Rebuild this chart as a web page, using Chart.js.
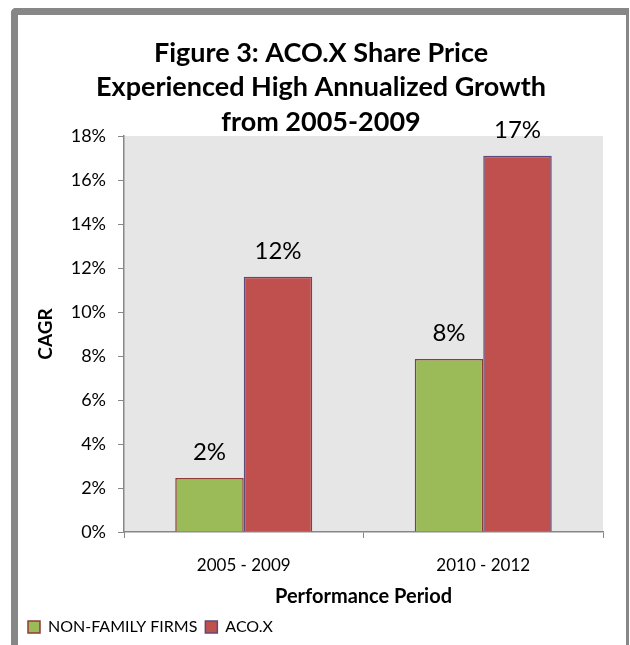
<!DOCTYPE html>
<html>
<head>
<meta charset="utf-8">
<script src="https://cdn.jsdelivr.net/npm/chart.js@4"></script>
<style>
  html, body { margin: 0; padding: 0; background: #fff; }
  body { width: 630px; height: 645px; position: relative; overflow: hidden; }
  #frame {
    position: absolute; left: 11px; top: 8px; width: 608px; height: 700px;
    border-left: 7px solid #878787; border-top: 7px solid #878787; border-right: 3px solid #878787;
    border-top-left-radius: 5px;
  }
  #wrap { position: absolute; left: 0; top: 0; width: 630px; height: 645px; }
</style>
</head>
<body>
<div id="frame"></div>
<div id="wrap"><canvas id="chart" width="630" height="645"></canvas></div>
<script>
const periods = ['2005 - 2009', '2010 - 2012'];
const nonFamily = [2.45, 7.86];
const acoX = [11.6, 17.1];
const titleLines = ['Figure 3: ACO.X Share Price', 'Experienced High Annualized Growth', 'from 2005-2009'];

const FONT = 'Lato, "Open Sans", sans-serif';
const AXIS = '#878787';

// grey plot background
const plotBg = {
  id: 'plotBg',
  beforeDraw(chart) {
    const {ctx, chartArea: a} = chart;
    ctx.save();
    ctx.fillStyle = '#e6e6e6';
    ctx.fillRect(a.left, a.top, a.right - a.left, a.bottom - a.top);
    ctx.restore();
  }
};

// title in three lines, overlapping the top of the plot like the original
const titleText = {
  id: 'titleText',
  afterDraw(chart) {
    const ctx = chart.ctx;
    ctx.save();
    ctx.font = 'bold 27px ' + FONT;
    ctx.fillStyle = '#000';
    ctx.textAlign = 'center';
    ctx.textBaseline = 'middle';
    titleLines.forEach((t, i) => ctx.fillText(t, 321, 53 + i * 34.5));
    ctx.restore();
  }
};

// value labels above the bars
const barLabels = {
  id: 'barLabels',
  afterDatasetsDraw(chart) {
    const ctx = chart.ctx;
    ctx.save();
    ctx.font = '24px ' + FONT;
    ctx.fillStyle = '#000';
    ctx.textAlign = 'center';
    ctx.textBaseline = 'alphabetic';
    chart.data.datasets.forEach((ds, i) => {
      chart.getDatasetMeta(i).data.forEach((bar, j) => {
        ctx.fillText(Math.round(ds.data[j]) + '%', bar.x, bar.y - 18);
      });
    });
    ctx.restore();
  }
};

new Chart(document.getElementById('chart'), {
  type: 'bar',
  data: {
    labels: periods,
    datasets: [
      {label: 'NON-FAMILY FIRMS', data: nonFamily, backgroundColor: '#9bbb59', borderColor: '#8e3b39', borderWidth: 1.5},
      {label: 'ACO.X', data: acoX, backgroundColor: '#c0504d', borderColor: '#5f497a', borderWidth: 1.5}
    ]
  },
  options: {
    responsive: false,
    animation: false,
    datasets: {bar: {barPercentage: 1, categoryPercentage: 0.572}},
    layout: {padding: {left: 20, top: 136, right: 27, bottom: 0}},
    plugins: {
      title: {display: false},
      tooltip: {enabled: false},
      legend: {
        position: 'bottom',
        align: 'start',
        labels: {
          font: {family: FONT, size: 16},
          color: '#000',
          boxWidth: 12,
          boxHeight: 12,
          padding: 8
        }
      }
    },
    scales: {
      x: {
        grid: {drawOnChartArea: false, drawTicks: true, tickLength: 6, color: AXIS, offset: true},
        border: {color: AXIS, width: 1.5},
        ticks: {font: {family: FONT, size: 17}, color: '#000', padding: 17},
        title: {display: true, text: 'Performance Period', font: {family: FONT, size: 20, weight: 'bold'}, color: '#000', padding: {top: 6, bottom: 2}},
        afterFit(s) { s.height = 79; }
      },
      y: {
        min: 0,
        max: 18,
        grid: {drawOnChartArea: false, drawTicks: true, tickLength: 6, color: AXIS},
        border: {color: AXIS, width: 1.5},
        ticks: {stepSize: 2, font: {family: FONT, size: 18}, color: '#000', padding: 12, callback: v => v + '%'},
        title: {display: true, text: 'CAGR', font: {family: FONT, size: 19, weight: 'bold'}, color: '#000', padding: {top: 14, bottom: 0}},
        afterFit(s) { s.width = 104; }
      }
    }
  },
  plugins: [plotBg, titleText, barLabels]
});
</script>
</body>
</html>
